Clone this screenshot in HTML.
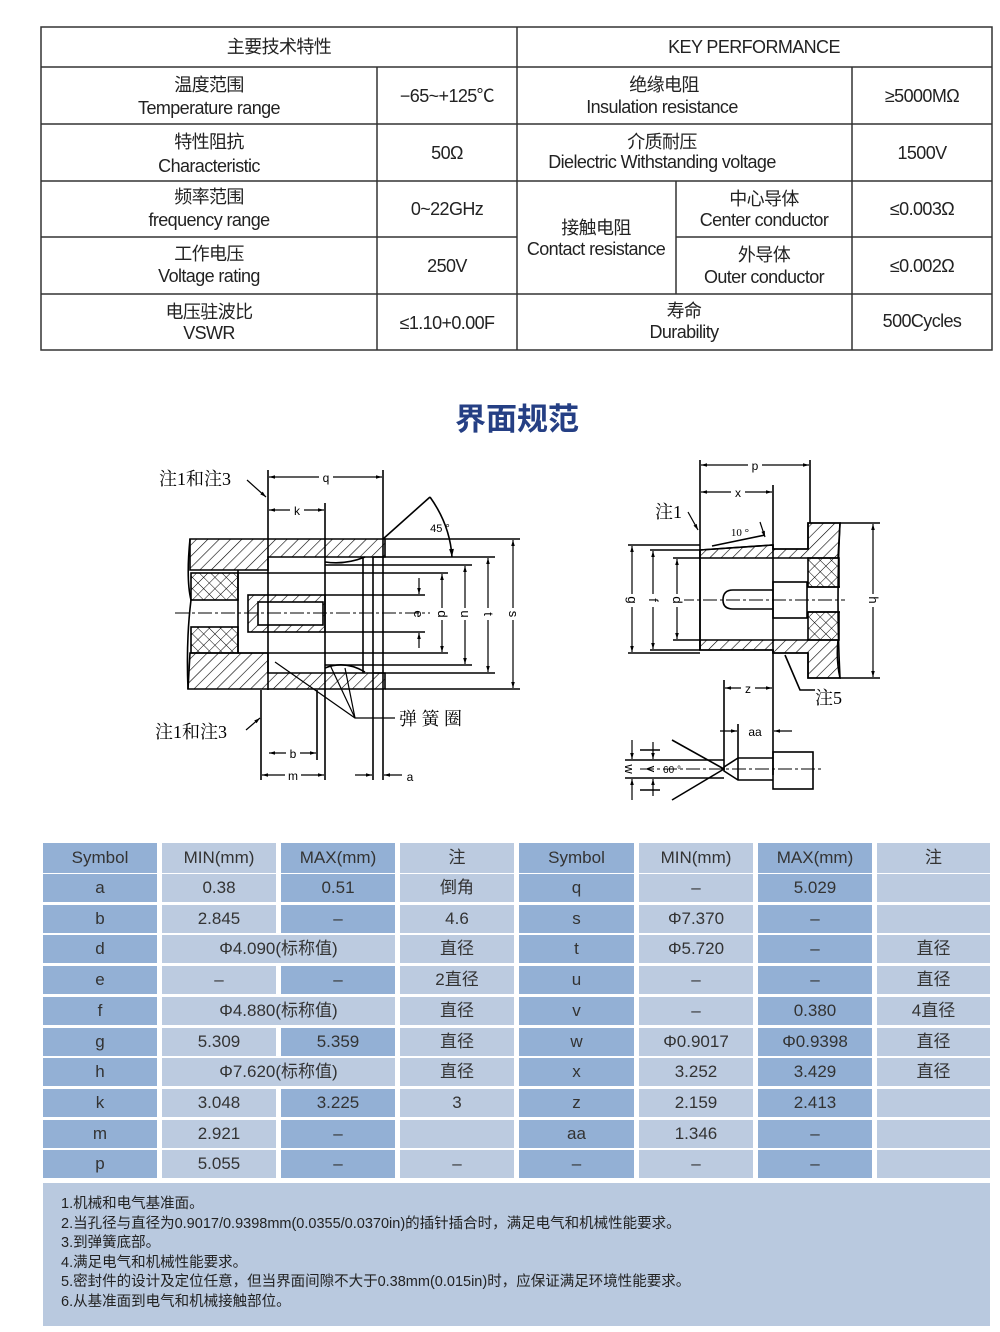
<!DOCTYPE html>
<html><head><meta charset="utf-8">
<style>
body{margin:0;width:1000px;height:1332px;background:#fff;position:relative;overflow:hidden;font-family:"Liberation Sans","Noto Sans CJK SC",sans-serif;}
.c{position:absolute;display:flex;align-items:center;justify-content:center;font-size:17px;line-height:20px;color:#333;height:28px;}
.d{background:#93b0d5}.l{background:#bccbe0}
#notes{position:absolute;left:43px;top:1183px;width:947px;height:143px;background:#b9c9df;font-size:14.5px;color:#222;line-height:19.6px;padding:12px 0 0 18px;box-sizing:border-box;}
</style></head><body>
<svg width="1000" height="1332" style="position:absolute;left:0;top:0" font-family="Liberation Sans, Noto Sans CJK SC, sans-serif">
<defs>
<pattern id="h" width="8" height="8" patternUnits="userSpaceOnUse" patternTransform="rotate(45)"><line x1="0" y1="0" x2="0" y2="8" stroke="#000" stroke-width="1.2"/></pattern>
<pattern id="x" width="8" height="8" patternUnits="userSpaceOnUse" patternTransform="rotate(45)"><line x1="0" y1="0" x2="0" y2="8" stroke="#000" stroke-width="1"/><line x1="0" y1="0" x2="8" y2="0" stroke="#000" stroke-width="1"/></pattern>
<marker id="a" viewBox="0 0 10 10" refX="10" refY="5" markerWidth="7" markerHeight="5" orient="auto-start-reverse"><path d="M0 2L10 5L0 8z"/></marker>
</defs>
<g stroke="#333" stroke-width="1.5" fill="none">
<rect x="41" y="27" width="951" height="323"/>
<line x1="41" y1="67" x2="992" y2="67"/><line x1="41" y1="124" x2="992" y2="124"/>
<line x1="41" y1="181" x2="992" y2="181"/><line x1="41" y1="237" x2="517" y2="237"/><line x1="676" y1="237" x2="992" y2="237"/>
<line x1="41" y1="294" x2="992" y2="294"/>
<line x1="517" y1="27" x2="517" y2="350"/><line x1="377" y1="67" x2="377" y2="350"/><line x1="852" y1="67" x2="852" y2="350"/><line x1="676" y1="181" x2="676" y2="294"/>
</g>
<g font-size="18" fill="#222" text-anchor="middle" letter-spacing="-0.6">
<text x="279" y="53">主要技术特性</text><text x="754" y="53">KEY PERFORMANCE</text>
<text x="209" y="91">温度范围</text><text x="209" y="114">Temperature range</text><text x="447" y="102">−65~+125℃</text>
<text x="664" y="91">绝缘电阻</text><text x="662" y="113">Insulation resistance</text><text x="922" y="102">≥5000MΩ</text>
<text x="209" y="148">特性阻抗</text><text x="209" y="172">Characteristic</text><text x="447" y="159">50Ω</text>
<text x="662" y="148">介质耐压</text><text x="662" y="168">Dielectric Withstanding voltage</text><text x="922" y="159">1500V</text>
<text x="209" y="203">频率范围</text><text x="209" y="226">frequency range</text><text x="447" y="215">0~22GHz</text>
<text x="596" y="234">接触电阻</text><text x="596" y="255">Contact resistance</text>
<text x="764" y="205">中心导体</text><text x="764" y="226">Center conductor</text><text x="922" y="215">≤0.003Ω</text>
<text x="764" y="261">外导体</text><text x="764" y="283">Outer conductor</text><text x="922" y="272">≤0.002Ω</text>
<text x="209" y="260">工作电压</text><text x="209" y="282">Voltage rating</text><text x="447" y="272">250V</text>
<text x="209" y="318">电压驻波比</text><text x="209" y="339">VSWR</text><text x="447" y="329">≤1.10+0.00F</text>
<text x="684" y="317">寿命</text><text x="684" y="338">Durability</text><text x="922" y="327">500Cycles</text>
</g>
<text x="517" y="430" font-size="31" font-weight="bold" fill="#253f84" text-anchor="middle">界面规范</text>

<g stroke="#000" stroke-width="1.6" fill="none">
<path d="M190 539 L385 539 L385 557 L268 557 L268 570 L190 570 Z" fill="url(#h)"/>
<path d="M190 653 L268 653 L268 673 L385 673 L385 689 L188 689 Z" fill="url(#h)"/>
<rect x="191" y="573" width="47" height="27" fill="url(#x)"/>
<rect x="191" y="627" width="47" height="26" fill="url(#x)"/>
<path d="M190 539 Q186 580 191 600 Q186 640 188 689"/>
<rect x="248" y="595" width="77" height="37" fill="url(#h)"/>
<rect x="258" y="602" width="65" height="23" fill="#fff"/>
<line x1="238" y1="570" x2="238" y2="653"/>
<line x1="238" y1="573" x2="268" y2="573"/><line x1="238" y1="653" x2="268" y2="653"/>
<line x1="268" y1="557" x2="268" y2="690"/><line x1="325" y1="557" x2="325" y2="780"/>
<line x1="363" y1="557" x2="363" y2="673"/><line x1="373" y1="557" x2="373" y2="780"/><line x1="383" y1="539" x2="383" y2="780"/>
<line x1="268" y1="573" x2="325" y2="573"/><line x1="268" y1="653" x2="325" y2="653"/>
<path d="M325 562 Q345 565 365 557"/><path d="M325 668 Q345 660 365 672"/>
<line x1="261" y1="690" x2="261" y2="780"/><line x1="317" y1="690" x2="317" y2="760"/>
<line x1="268" y1="470" x2="268" y2="557"/><line x1="383" y1="470" x2="383" y2="539"/><line x1="325" y1="503" x2="325" y2="557"/>
<line x1="385" y1="539" x2="520" y2="539"/><line x1="385" y1="689" x2="520" y2="689"/>
<line x1="373" y1="557" x2="495" y2="557"/><line x1="373" y1="673" x2="495" y2="673"/>
<line x1="325" y1="565" x2="472" y2="565"/><line x1="325" y1="665" x2="472" y2="665"/>
<line x1="325" y1="573" x2="448" y2="573"/><line x1="325" y1="653" x2="448" y2="653"/>
<line x1="325" y1="595" x2="425" y2="595"/><line x1="325" y1="632" x2="425" y2="632"/>
<line x1="383" y1="539" x2="430" y2="497"/>
<path d="M430 497 Q450 525 452 557" marker-end="url(#a)"/>
<line x1="175" y1="613" x2="430" y2="613" stroke-dasharray="14 3 3 3" stroke-width="1"/>
</g>
<g stroke="#000" stroke-width="1.2" fill="none" marker-start="url(#a)" marker-end="url(#a)">
<line x1="269" y1="477" x2="382" y2="477"/><line x1="269" y1="510" x2="324" y2="510"/>
<line x1="513" y1="540" x2="513" y2="688"/><line x1="488" y1="558" x2="488" y2="672"/>
<line x1="465" y1="566" x2="465" y2="664"/><line x1="442" y1="574" x2="442" y2="652"/>
<line x1="269" y1="753" x2="316" y2="753"/><line x1="262" y1="775" x2="324" y2="775"/>
</g>
<g stroke="#000" stroke-width="1.2" marker-end="url(#a)">
<line x1="419" y1="578" x2="419" y2="594"/><line x1="419" y1="648" x2="419" y2="633"/>
<line x1="355" y1="775" x2="372" y2="775"/><line x1="402" y1="775" x2="384" y2="775"/>
<line x1="247" y1="480" x2="266" y2="497"/><line x1="246" y1="730" x2="260" y2="718"/>
</g>
<g stroke="#000" stroke-width="1.2" fill="none">
<path d="M395 718 L355 718 L275 662"/><path d="M355 718 L330 665"/><path d="M355 718 L345 668"/>
</g>
<g font-size="12" fill="#000" text-anchor="middle">
<rect x="319" y="470" width="14" height="14" fill="#fff"/><text x="326" y="482">q</text>
<rect x="290" y="503" width="14" height="14" fill="#fff"/><text x="297" y="515">k</text>
<rect x="286" y="746" width="14" height="14" fill="#fff"/><text x="293" y="758">b</text>
<rect x="285" y="768" width="16" height="14" fill="#fff"/><text x="293" y="780">m</text>
<text x="410" y="781">a</text>
<text x="440" y="532" font-size="11">45 °</text>
<g font-size="13"><rect x="506" y="608" width="14" height="12" fill="#fff"/><text transform="translate(509 614) rotate(90)" text-anchor="middle">s</text>
<rect x="481" y="608" width="14" height="12" fill="#fff"/><text transform="translate(484 614) rotate(90)" text-anchor="middle">t</text>
<rect x="458" y="608" width="14" height="12" fill="#fff"/><text transform="translate(461 614) rotate(90)" text-anchor="middle">u</text>
<rect x="435" y="608" width="14" height="12" fill="#fff"/><text transform="translate(438 614) rotate(90)" text-anchor="middle">d</text>
<text transform="translate(414 614) rotate(90)" text-anchor="middle">e</text></g>
</g>
<g font-family="Liberation Serif, Noto Serif CJK SC, serif" font-size="18" fill="#000">
<text x="159" y="485">注1和注3</text><text x="155" y="738">注1和注3</text><text x="399" y="725">弹 簧 圈</text>
<text x="655" y="518">注1</text><text x="815" y="704">注5</text>
</g>

<g stroke="#000" stroke-width="1.6" fill="none">
<path d="M700 550 L773 545 L773 549 L808 549 L808 523 L840 523 Q836 600 840 678 L808 678 L808 653 L773 653 L773 650 L700 650 Z"/>
<path d="M700 550 L773 545 L773 549 L808 549 L808 523 L840 523 L838 558 L700 558 Z" fill="url(#h)"/>
<path d="M700 640 L838 640 Q836 660 840 678 L808 678 L808 653 L773 653 L773 650 L700 650 Z" fill="url(#h)"/>
<rect x="808" y="558" width="31" height="29" fill="url(#x)"/>
<rect x="808" y="612" width="31" height="28" fill="url(#x)"/>
<rect x="773" y="582" width="34" height="36" fill="#fff"/>
<path d="M773 590 L733 590 Q723 590 723 600 Q723 609 733 609 L773 609"/>
<line x1="808" y1="587" x2="840" y2="587"/><line x1="808" y1="612" x2="840" y2="612"/>
<line x1="700" y1="460" x2="700" y2="650"/><line x1="810" y1="460" x2="810" y2="523"/>
<line x1="773" y1="485" x2="773" y2="775"/><line x1="724" y1="680" x2="724" y2="770"/><line x1="738" y1="724" x2="738" y2="758"/>
<line x1="628" y1="545" x2="700" y2="545"/><line x1="628" y1="653" x2="700" y2="653"/>
<line x1="650" y1="550" x2="700" y2="550"/><line x1="650" y1="650" x2="700" y2="650"/>
<line x1="673" y1="558" x2="700" y2="558"/><line x1="673" y1="640" x2="700" y2="640"/>
<line x1="840" y1="523" x2="880" y2="523"/><line x1="840" y1="678" x2="880" y2="678"/>
<line x1="712" y1="546" x2="765" y2="535"/>
<line x1="680" y1="600" x2="845" y2="600" stroke-dasharray="14 3 3 3" stroke-width="1"/>
<rect x="773" y="752" width="40" height="37"/>
<path d="M773 758 L738 758 L724 767 L724 771 L738 780 L773 780"/>
<line x1="738" y1="758" x2="738" y2="780"/>
<line x1="672" y1="740" x2="724" y2="769"/><line x1="672" y1="800" x2="724" y2="769"/>
<line x1="625" y1="760" x2="724" y2="760"/><line x1="625" y1="778" x2="724" y2="778"/>
<line x1="640" y1="750" x2="660" y2="750"/><line x1="640" y1="790" x2="660" y2="790"/>
<line x1="640" y1="769" x2="822" y2="769" stroke-dasharray="14 3 3 3" stroke-width="1"/>
<path d="M815 690 L800 690 L785 655"/>
</g>
<g stroke="#000" stroke-width="1.2" fill="none" marker-start="url(#a)" marker-end="url(#a)">
<line x1="701" y1="465" x2="809" y2="465"/><line x1="701" y1="492" x2="772" y2="492"/>
<line x1="632" y1="546" x2="632" y2="652"/><line x1="653" y1="551" x2="653" y2="649"/>
<line x1="677" y1="559" x2="677" y2="639"/><line x1="873" y1="524" x2="873" y2="677"/>
<line x1="725" y1="688" x2="772" y2="688"/>
</g>
<g stroke="#000" stroke-width="1.2" marker-end="url(#a)">
<line x1="720" y1="731" x2="737" y2="731"/><line x1="792" y1="731" x2="774" y2="731"/>
<line x1="632" y1="740" x2="632" y2="759"/><line x1="632" y1="800" x2="632" y2="779"/>
<line x1="653" y1="742" x2="653" y2="759"/><line x1="653" y1="796" x2="653" y2="779"/>
<line x1="688" y1="512" x2="698" y2="530"/>
<line x1="760" y1="522" x2="765" y2="537"/>
</g>
<g font-size="12" fill="#000" text-anchor="middle">
<rect x="748" y="458" width="14" height="14" fill="#fff"/><text x="755" y="470">p</text>
<rect x="731" y="485" width="14" height="14" fill="#fff"/><text x="738" y="497">x</text>
<rect x="741" y="681" width="14" height="14" fill="#fff"/><text x="748" y="693">z</text>
<text x="755" y="736">aa</text>
<text x="740" y="536" font-family="Liberation Serif,serif" font-size="11">10 °</text>
<text x="672" y="773" font-size="10">60 °</text>
<g font-size="13"><rect x="625" y="594" width="14" height="13" fill="#fff"/><text transform="translate(628 600) rotate(90)">g</text>
<rect x="646" y="594" width="14" height="13" fill="#fff"/><text transform="translate(649 600) rotate(90)">f</text>
<rect x="670" y="594" width="14" height="13" fill="#fff"/><text transform="translate(673 600) rotate(90)">d</text>
<rect x="866" y="594" width="14" height="13" fill="#fff"/><text transform="translate(869 600) rotate(90)">h</text>
<text transform="translate(625 769) rotate(90)">w</text><text transform="translate(647 769) rotate(90)">v</text></g>
</g>
</svg>

<div class="c d" style="left:43px;top:843px;width:114px;height:30px">Symbol</div>
<div class="c l" style="left:162px;top:843px;width:114px;height:30px">MIN(mm)</div>
<div class="c d" style="left:281px;top:843px;width:114px;height:30px">MAX(mm)</div>
<div class="c l" style="left:400px;top:843px;width:114px;height:30px">注</div>
<div class="c d" style="left:519px;top:843px;width:115px;height:30px">Symbol</div>
<div class="c l" style="left:639px;top:843px;width:114px;height:30px">MIN(mm)</div>
<div class="c d" style="left:758px;top:843px;width:114px;height:30px">MAX(mm)</div>
<div class="c l" style="left:877px;top:843px;width:113px;height:30px">注</div>

<div id="rows"></div>
<script>
var data=[
["a","0.38","0.51","倒角","q","–","5.029",""],
["b","2.845","–","4.6","s","Φ7.370","–",""],
["d","Φ4.090(标称值)",null,"直径","t","Φ5.720","–","直径"],
["e","–","–","2直径","u","–","–","直径"],
["f","Φ4.880(标称值)",null,"直径","v","–","0.380","4直径"],
["g","5.309","5.359","直径","w","Φ0.9017","Φ0.9398","直径"],
["h","Φ7.620(标称值)",null,"直径","x","3.252","3.429","直径"],
["k","3.048","3.225","3","z","2.159","2.413",""],
["m","2.921","–","","aa","1.346","–",""],
["p","5.055","–","–","–","–","–",""]];
var L=[43,162,281,400,519,639,758,877],W=[114,114,114,114,115,114,114,113],h="";
data.forEach(function(r,i){var t=Math.round(874+i*30.7);
for(var j=0;j<8;j++){if(r[j]===null)continue;var w=W[j];if(j==1&&r[2]===null)w=233;
var cls=(j%2==0)?"d":"l";if(j==1&&r[2]===null)cls="l";
h+='<div class="c '+cls+'" style="left:'+L[j]+'px;top:'+t+'px;width:'+w+'px">'+r[j]+'</div>';}});
document.getElementById("rows").innerHTML=h;
</script>
<div id="notes">1.机械和电气基准面。<br>2.当孔径与直径为0.9017/0.9398mm(0.0355/0.0370in)的插针插合时，满足电气和机械性能要求。<br>3.到弹簧底部。<br>4.满足电气和机械性能要求。<br>5.密封件的设计及定位任意，但当界面间隙不大于0.38mm(0.015in)时，应保证满足环境性能要求。<br>6.从基准面到电气和机械接触部位。</div>
</body></html>
